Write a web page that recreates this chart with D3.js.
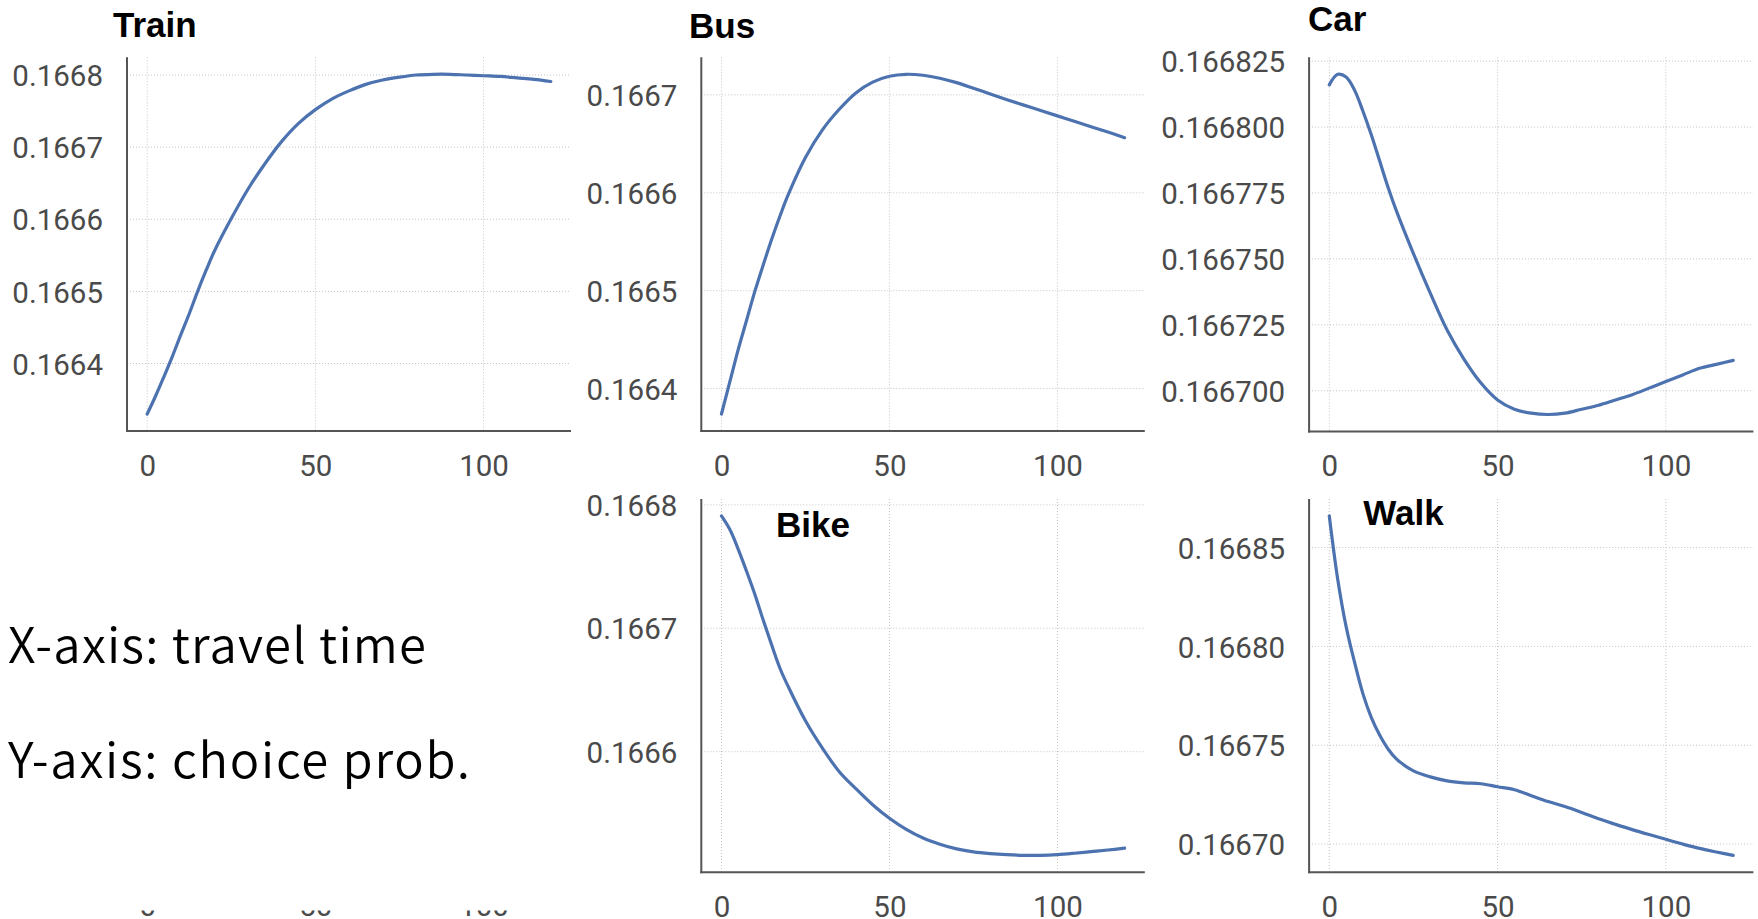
<!DOCTYPE html>
<html><head><meta charset="utf-8">
<script src="https://cdn.jsdelivr.net/npm/d3@7"></script>
<style>body{margin:0;background:#fff} svg{display:block}</style>
</head><body>
<svg id="chart" width="1758" height="919"></svg>
<script>
// ---------- data ----------
const travelTime = [0,2.5,5,7.5,10,12.5,15,17.5,20,25,30,35,40,45,50,55,60,65,70,75,80,85,90,95,100,105,110,115,120];
const trainProb = [0.166330,0.166355,0.166382,0.166410,0.166440,0.166469,0.166500,0.166529,0.166556,0.166601,0.166642,0.166677,0.166708,0.166733,0.166752,0.166767,0.166778,0.166787,0.166793,0.166797,0.166800,0.166801,0.166801,0.166800,0.166799,0.166798,0.166796,0.166794,0.166791];
const busProb   = [0.166374,0.166407,0.166440,0.166470,0.166500,0.166527,0.166553,0.166577,0.166599,0.166636,0.166664,0.166685,0.166702,0.166713,0.166719,0.166721,0.166720,0.166717,0.1667125,0.1667068,0.1667008,0.1666950,0.1666895,0.1666840,0.1666785,0.1666730,0.1666675,0.1666620,0.1666562];
const carProb   = [0.166816,0.166820,0.166819,0.166814,0.166806,0.166797,0.166787,0.166777,0.166768,0.166752,0.166737,0.166723,0.166712,0.166703,0.1666965,0.166693,0.1666915,0.166691,0.1666915,0.166693,0.1666945,0.1666965,0.1666985,0.166701,0.1667035,0.166706,0.1667085,0.166710,0.1667115];
const bikeProb  = [0.166791,0.166780,0.166764,0.166746,0.166727,0.166706,0.166686,0.166667,0.166652,0.166625,0.166603,0.166584,0.166570,0.166557,0.166546,0.1665370,0.1665300,0.1665250,0.1665212,0.1665188,0.1665174,0.1665165,0.1665160,0.1665160,0.1665166,0.1665177,0.1665190,0.1665203,0.1665218];
const walkProb  = [0.166866,0.166834,0.166810,0.166792,0.166776,0.166764,0.166755,0.166748,0.166743,0.166737,0.166734,0.166732,0.166731,0.1667305,0.166729,0.1667275,0.1667245,0.1667215,0.166719,0.166716,0.1667128,0.16671,0.1667073,0.1667048,0.1667024,0.1667,0.1666978,0.166696,0.1666943];

const xTicks = [0, 50, 100];
const trainTicks = [0.1664, 0.1665, 0.1666, 0.1667, 0.1668];
const busTicks   = [0.1664, 0.1665, 0.1666, 0.1667];
const carTicks   = [0.166700, 0.166725, 0.166750, 0.166775, 0.166800, 0.166825];
const bikeTicks  = [0.1666, 0.1667, 0.1668];
const walkTicks  = [0.16670, 0.16675, 0.16680, 0.16685];

const modeNames = ["Train", "Bus", "Car", "Bike", "Walk"];
const noteLines = ["X-axis: travel time", "Y-axis: choice prob."];

// ---------- layout ----------
const svg = d3.select("#chart");
const LINE = "#4C72B0", SPINE = "#555", GRID = "#c4c4c4", TICKC = "#4a4a4a";
const TICKFONT = "Roboto, 'Liberation Sans', sans-serif";
const TICKSIZE = 29.5;

const panels = [
  {name: modeNames[0], vals: trainProb, ticks: trainTicks, fmt: d3.format(".4f"), box: [127, 571, 57.3, 431], title: [113, 36.7]},
  {name: modeNames[1], vals: busProb,   ticks: busTicks,   fmt: d3.format(".4f"), box: [701.3, 1144.8, 57.3, 431], title: [689, 38.3]},
  {name: modeNames[2], vals: carProb,   ticks: carTicks,   fmt: d3.format(".6f"), box: [1309.1, 1753.4, 57.3, 431.5], title: [1308, 31]},
  {name: modeNames[3], vals: bikeProb,  ticks: bikeTicks,  fmt: d3.format(".4f"), box: [701.3, 1144.8, 499, 872.3], title: [776, 536.7]},
  {name: modeNames[4], vals: walkProb,  ticks: walkTicks,  fmt: d3.format(".5f"), box: [1309.1, 1753.4, 499, 872.3], title: [1363.3, 525]}
];

function padDomain(ext) {
  const r = ext[1] - ext[0];
  return [ext[0] - 0.05 * r, ext[1] + 0.05 * r];
}
const xDomain = padDomain(d3.extent(travelTime));

function styleTicks(sel, dy) {
  sel.selectAll("text").attr("font-family", TICKFONT).attr("font-size", TICKSIZE)
    .attr("fill", TICKC).attr("dy", dy);
}

panels.forEach(p => {
  const [x0, x1, y0, y1] = p.box;
  const x = d3.scaleLinear().domain(xDomain).range([x0, x1]);
  const y = d3.scaleLinear().domain(padDomain(d3.extent(p.vals))).range([y1, y0]);
  const g = svg.append("g");

  // grid
  g.append("g").selectAll("line").data(xTicks).join("line")
    .attr("x1", d => x(d)).attr("x2", d => x(d)).attr("y1", y0).attr("y2", y1)
    .attr("stroke", GRID).attr("stroke-width", 1).attr("stroke-dasharray", "1,2");
  g.append("g").selectAll("line").data(p.ticks).join("line")
    .attr("x1", x0).attr("x2", x1).attr("y1", d => y(d)).attr("y2", d => y(d))
    .attr("stroke", GRID).attr("stroke-width", 1).attr("stroke-dasharray", "1,2");

  // axes via d3 (tick marks hidden, labels only)
  const ya = g.append("g").attr("transform", `translate(${x0},0)`)
    .call(d3.axisLeft(y).tickValues(p.ticks).tickFormat(p.fmt).tickSize(0).tickPadding(24));
  ya.select(".domain").remove();
  styleTicks(ya, "0.36em");

  const xa = g.append("g").attr("transform", `translate(0,${y1})`)
    .call(d3.axisBottom(x).tickValues(xTicks).tickFormat(d3.format("d")).tickSize(0).tickPadding(24));
  xa.select(".domain").remove();
  styleTicks(xa, "0.71em");

  // spines
  g.append("line").attr("x1", x0).attr("x2", x0).attr("y1", y0).attr("y2", y1 + 1)
    .attr("stroke", SPINE).attr("stroke-width", 2);
  g.append("line").attr("x1", x0 - 1).attr("x2", x1).attr("y1", y1).attr("y2", y1)
    .attr("stroke", SPINE).attr("stroke-width", 2);

  // curve
  const line = d3.line().x((d, i) => x(travelTime[i])).y(d => y(d)).curve(d3.curveCatmullRom.alpha(0.5));
  g.append("path").datum(p.vals).attr("d", line).attr("fill", "none")
    .attr("stroke", LINE).attr("stroke-width", 3.2).attr("stroke-linecap", "round");

  // title
  g.append("text").attr("x", p.title[0]).attr("y", p.title[1]).text(p.name)
    .attr("font-family", "'Liberation Sans', Arial, sans-serif").attr("font-weight", "bold")
    .attr("font-size", 35).attr("fill", "#000");
});

// leftover tick labels of the hidden bottom-left axes (mostly covered in the original)
svg.append("clipPath").attr("id", "hidClip").append("rect")
  .attr("x", 0).attr("y", 910.5).attr("width", 600).attr("height", 10);
{
  const x = d3.scaleLinear().domain(xDomain).range([127, 571]);
  const xa = svg.append("g").attr("clip-path", "url(#hidClip)")
    .append("g").attr("transform", "translate(0,871)")
    .call(d3.axisBottom(x).tickValues(xTicks).tickFormat(d3.format("d")).tickSize(0).tickPadding(24));
  xa.select(".domain").remove();
  styleTicks(xa, "0.71em");
}

// note text
const noteWidths = [418, 462];
svg.append("g").selectAll("text").data(noteLines).join("text")
  .attr("x", 8).attr("y", (d, i) => [662.7, 777.7][i]).text(d => d)
  .attr("textLength", (d, i) => noteWidths[i]).attr("lengthAdjust", "spacing")
  .attr("font-family", "'Noto Sans CJK JP', sans-serif").attr("font-weight", 350)
  .attr("font-size", 49).attr("fill", "#000");
</script>
</body></html>
